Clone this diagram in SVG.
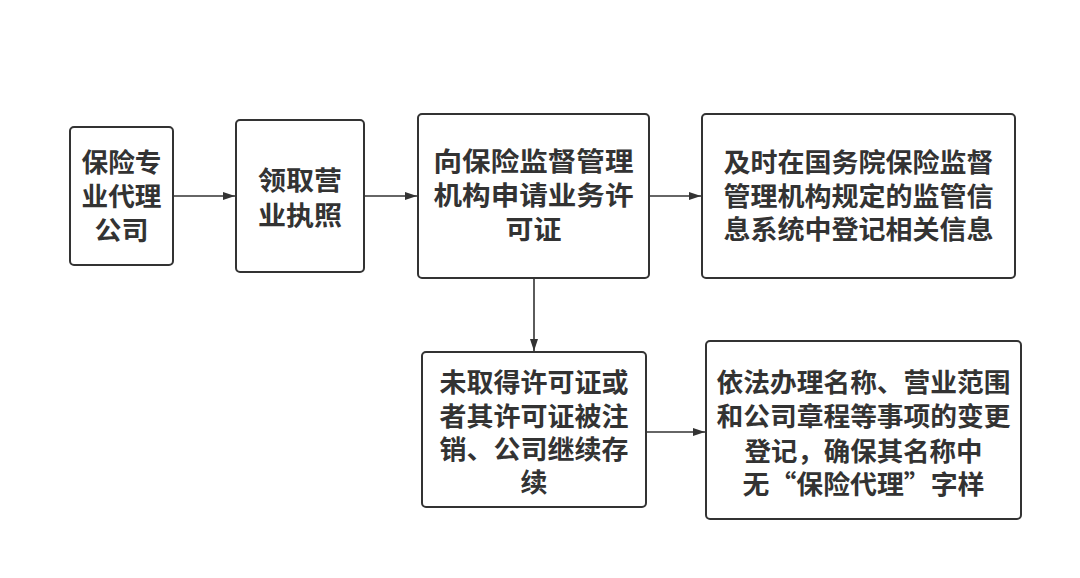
<svg xmlns="http://www.w3.org/2000/svg" width="1080" height="578" viewBox="0 0 1080 578">
<style>
.box{fill:#fff;stroke:#333;stroke-width:2}
.t{font-family:"Noto Sans CJK SC","Noto Sans",sans-serif;font-weight:bold;font-size:26px;fill:#333;text-anchor:middle}
.c{stroke:#333;stroke-width:1.6;fill:none;marker-end:url(#ah)}
</style>
<defs>
<marker id="ah" markerWidth="12" markerHeight="10" refX="12" refY="5" orient="auto" markerUnits="userSpaceOnUse">
<path d="M0,1 L12,5 L0,9 Z" fill="#333"/>
</marker>
</defs>
<rect width="1080" height="578" fill="#fff"/>
<g id="connectors">
<line class="c" x1="173" y1="196" x2="235" y2="196"/>
<line class="c" x1="364" y1="196" x2="417" y2="196"/>
<line class="c" x1="649" y1="196" x2="701" y2="196"/>
<line class="c" x1="534" y1="278" x2="534" y2="351"/>
<line class="c" x1="646" y1="432" x2="705" y2="432"/>
</g>
<g id="n1">
<rect class="box" x="70" y="127" width="103" height="138" rx="4"/>
<text class="t" x="121.5" y="172" textLength="80" lengthAdjust="spacingAndGlyphs">保险专</text>
<text class="t" x="121.5" y="206" textLength="80" lengthAdjust="spacingAndGlyphs">业代理</text>
<text class="t" x="121.5" y="240" textLength="54" lengthAdjust="spacingAndGlyphs">公司</text>
</g>
<g id="n2">
<rect class="box" x="236" y="120" width="128" height="152" rx="4"/>
<text class="t" x="300" y="190" textLength="84" lengthAdjust="spacingAndGlyphs">领取营</text>
<text class="t" x="300" y="225" textLength="84" lengthAdjust="spacingAndGlyphs">业执照</text>
</g>
<g id="n3">
<rect class="box" x="418" y="114" width="231" height="164" rx="4"/>
<text class="t" x="533.5" y="171" textLength="200" lengthAdjust="spacingAndGlyphs">向保险监督管理</text>
<text class="t" x="533.5" y="205" textLength="200" lengthAdjust="spacingAndGlyphs">机构申请业务许</text>
<text class="t" x="533.5" y="239" textLength="56" lengthAdjust="spacingAndGlyphs">可证</text>
</g>
<g id="n4">
<rect class="box" x="702" y="114" width="313" height="164" rx="4"/>
<text class="t" x="858.5" y="172" textLength="270" lengthAdjust="spacingAndGlyphs">及时在国务院保险监督</text>
<text class="t" x="858.5" y="206" textLength="270" lengthAdjust="spacingAndGlyphs">管理机构规定的监管信</text>
<text class="t" x="858.5" y="239" textLength="270" lengthAdjust="spacingAndGlyphs">息系统中登记相关信息</text>
</g>
<g id="n5">
<rect class="box" x="422" y="352" width="224" height="155" rx="4"/>
<text class="t" x="534" y="392" textLength="189" lengthAdjust="spacingAndGlyphs">未取得许可证或</text>
<text class="t" x="534" y="426" textLength="189" lengthAdjust="spacingAndGlyphs">者其许可证被注</text>
<text class="t" x="534" y="459" textLength="189" lengthAdjust="spacingAndGlyphs">销、公司继续存</text>
<text class="t" x="534" y="492" textLength="27" lengthAdjust="spacingAndGlyphs">续</text>
</g>
<g id="n6">
<rect class="box" x="706" y="341" width="315" height="178" rx="4"/>
<text class="t" x="863.5" y="392" textLength="294" lengthAdjust="spacingAndGlyphs">依法办理名称、营业范围</text>
<text class="t" x="863.5" y="426" textLength="294" lengthAdjust="spacingAndGlyphs">和公司章程等事项的变更</text>
<text class="t" x="863.5" y="461" textLength="238" lengthAdjust="spacingAndGlyphs">登记，确保其名称中</text>
<text class="t" x="863.5" y="494" textLength="242" lengthAdjust="spacingAndGlyphs">无“保险代理”字样</text>
</g>
</svg>
